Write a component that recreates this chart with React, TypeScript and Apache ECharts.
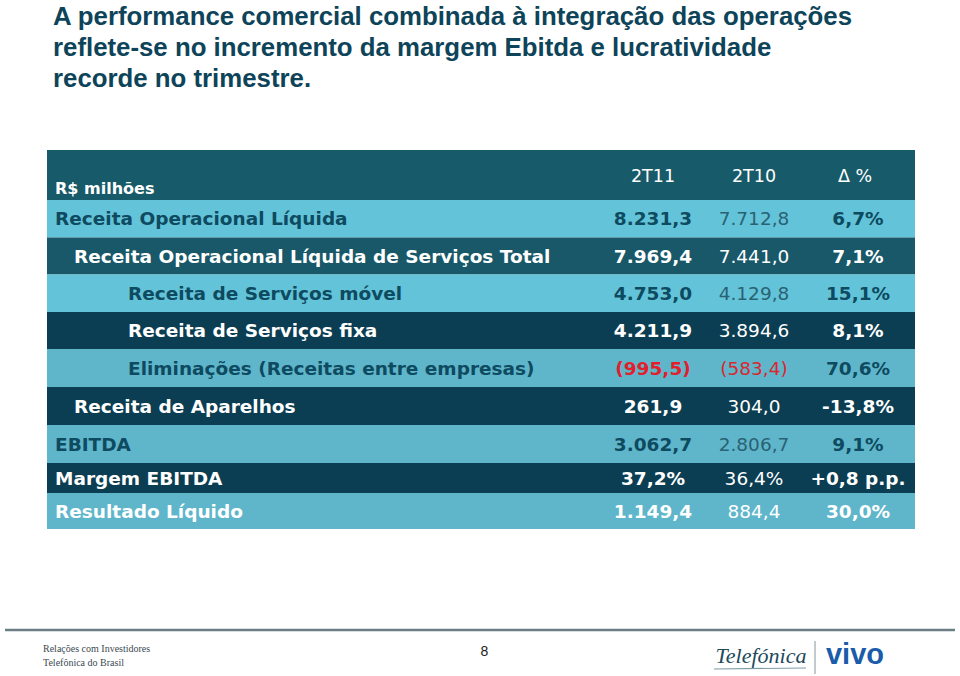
import React, { useEffect, useRef } from "react";
import * as echarts from "echarts";

// ---------- data ----------
const titleLines = [
  "A performance comercial combinada à integração das operações",
  "reflete-se no incremento da margem Ebitda e lucratividade",
  "recorde no trimestre.",
];
const unitLabel = "R$ milhões";
const columnHeaders = ["2T11", "2T10", "Δ %"];
const rowLabels = [
  "Receita Operacional Líquida",
  "Receita Operacional Líquida de Serviços Total",
  "Receita de Serviços móvel",
  "Receita de Serviços fixa",
  "Eliminações (Receitas entre empresas)",
  "Receita de Aparelhos",
  "EBITDA",
  "Margem EBITDA",
  "Resultado Líquido",
];
const rowKinds = ["value", "value", "value", "value", "value", "value", "value", "percent", "value"];
const values2T11 = [8231.3, 7969.4, 4753.0, 4211.9, -995.5, 261.9, 3062.7, 37.2, 1149.4];
const values2T10 = [7712.8, 7441.0, 4129.8, 3894.6, -583.4, 304.0, 2806.7, 36.4, 884.4];
const deltas = [6.7, 7.1, 15.1, 8.1, 70.6, -13.8, 9.1, 0.8, 30.0];
const footerLines = ["Relações com Investidores", "Telefônica do Brasil"];
const pageNumber = "8";

// ---------- layout & style ----------
const TABLE_L = 47;
const TABLE_R = 915;
const HEADER_TOP = 150;
const rowEdges = [200, 237.5, 274.5, 312, 349, 387, 425, 463, 493, 529];
const indentLevels = [0, 1, 2, 2, 2, 1, 0, 0, 0];
const indentX = [55, 74, 128];
const colCenters = [653, 754, 858];
const headerCenters = [653, 754, 855];

const HEADER_FILL = "#175A69";
const rowFills = ["#63C4D9", "#185868", "#63C4D9", "#0B3E52", "#5FB6CB", "#0B3E52", "#5FB6CB", "#0B3E52", "#5FB6CB"];
const DARK = "#0E4A60";
const WHITE = "#FFFFFF";
const RED = "#E1202B";
const rowText = [DARK, WHITE, DARK, WHITE, DARK, WHITE, DARK, WHITE, WHITE];
const row2T10Text = ["#2A6173", WHITE, "#2A6173", WHITE, "#D8282F", WHITE, "#2A6173", WHITE, WHITE];
const row2T11Text = [DARK, WHITE, DARK, WHITE, RED, WHITE, DARK, WHITE, WHITE];

const TABLE_FONT = "'DejaVu Sans', Verdana, sans-serif";
const CELL_SIZE = 18.5;

function fmtNum(n: number): string {
  const a = Math.abs(n).toFixed(1);
  const [ip, dp] = a.split(".");
  const withSep = ip.replace(/\B(?=(\d{3})+(?!\d))/g, ".");
  const s = withSep + "," + dp;
  return n < 0 ? "(" + s + ")" : s;
}
function fmtCell(n: number, kind: string): string {
  return kind === "percent" ? fmtNum(n) + "%" : fmtNum(n);
}
function fmtDelta(n: number, kind: string): string {
  const s = Math.abs(n).toFixed(1).replace(".", ",");
  if (kind === "percent") return (n >= 0 ? "+" : "-") + s + " p.p.";
  return (n < 0 ? "-" : "") + s + "%";
}

function txt(
  text: string,
  x: number,
  y: number,
  opts: { size: number; weight?: string; color: string; align?: string; family?: string; style?: string }
) {
  return {
    type: "text",
    x,
    y,
    silent: true,
    style: {
      text,
      x: 0,
      y: 0,
      fill: opts.color,
      fontSize: opts.size,
      fontWeight: opts.weight || "normal",
      fontStyle: opts.style || "normal",
      fontFamily: opts.family || TABLE_FONT,
      align: opts.align || "left",
      textAlign: opts.align || "left",
      verticalAlign: "middle",
      textVerticalAlign: "middle",
    },
  };
}

export default function App() {
  const ref = useRef<HTMLDivElement>(null);

  useEffect(() => {
    if (!ref.current) return;
    const chart = echarts.init(ref.current, null, { renderer: "svg" });
    const g: any[] = [];

    // Title
    const titleY = [15.5, 46.5, 78];
    titleLines.forEach((t, i) =>
      g.push(
        txt(t, 53, titleY[i], {
          size: 25.8,
          weight: "bold",
          color: "#0E4459",
          family: "'Liberation Sans', Arial, sans-serif",
        })
      )
    );

    // Header band
    g.push({
      type: "rect",
      silent: true,
      shape: { x: TABLE_L, y: HEADER_TOP, width: TABLE_R - TABLE_L, height: rowEdges[0] - HEADER_TOP },
      style: { fill: HEADER_FILL },
    });
    g.push(txt(unitLabel, 55, 188, { size: 16, weight: "bold", color: WHITE }));
    columnHeaders.forEach((h, i) =>
      g.push(txt(h, headerCenters[i], 176, { size: 17.5, color: WHITE, align: "center" }))
    );

    // Rows
    rowLabels.forEach((label, i) => {
      const top = rowEdges[i];
      const bot = rowEdges[i + 1];
      const cy = (top + bot) / 2;
      g.push({
        type: "rect",
        silent: true,
        shape: { x: TABLE_L, y: top, width: TABLE_R - TABLE_L, height: bot - top },
        style: { fill: rowFills[i] },
      });
      g.push(txt(label, indentX[indentLevels[i]], cy, { size: CELL_SIZE, weight: "bold", color: rowText[i] }));
      g.push(
        txt(fmtCell(values2T11[i], rowKinds[i]), colCenters[0], cy, {
          size: CELL_SIZE,
          weight: "bold",
          color: row2T11Text[i],
          align: "center",
        })
      );
      g.push(
        txt(fmtCell(values2T10[i], rowKinds[i]), colCenters[1], cy, {
          size: CELL_SIZE,
          color: row2T10Text[i],
          align: "center",
        })
      );
      g.push(
        txt(fmtDelta(deltas[i], rowKinds[i]), colCenters[2], cy, {
          size: CELL_SIZE,
          weight: "bold",
          color: rowText[i],
          align: "center",
        })
      );
    });

    // Footer
    g.push({
      type: "line",
      silent: true,
      shape: { x1: 5, y1: 630, x2: 955, y2: 630 },
      style: { stroke: "#6B7D85", lineWidth: 2.5 },
    });
    g.push(
      txt(footerLines[0], 43, 648, {
        size: 10,
        color: "#3B4A52",
        family: "'Liberation Serif', 'Times New Roman', serif",
      })
    );
    g.push(
      txt(footerLines[1], 43, 662, {
        size: 10,
        color: "#3B4A52",
        family: "'Liberation Serif', 'Times New Roman', serif",
      })
    );
    g.push(
      txt(pageNumber, 484.5, 651, {
        size: 14,
        color: "#222222",
        align: "center",
        family: "'Liberation Sans', Arial, sans-serif",
      })
    );

    // Logos
    g.push(
      txt("Telefónica", 761, 655, {
        size: 22,
        style: "italic",
        color: "#1C4A5C",
        align: "center",
        family: "'Liberation Serif', 'Times New Roman', serif",
      })
    );
    g.push({
      type: "line",
      silent: true,
      shape: { x1: 714, y1: 669, x2: 806, y2: 668 },
      style: { stroke: "#7E9CA6", lineWidth: 1.2 },
    });
    g.push({
      type: "line",
      silent: true,
      shape: { x1: 815, y1: 641, x2: 815, y2: 674 },
      style: { stroke: "#9AA7AD", lineWidth: 1.2 },
    });
    g.push(
      txt("vivo", 855, 654, {
        size: 29,
        weight: "bold",
        color: "#1A5CAA",
        align: "center",
        family: "'Liberation Sans', Arial, sans-serif",
      })
    );

    chart.setOption({
      animation: false,
      backgroundColor: "#FFFFFF",
      graphic: { elements: g },
    });

    return () => chart.dispose();
  }, []);

  return (
    <div
      ref={ref}
      style={{ position: "fixed", left: 0, top: 0, width: 960, height: 676, background: "#fff" }}
    />
  );
}
